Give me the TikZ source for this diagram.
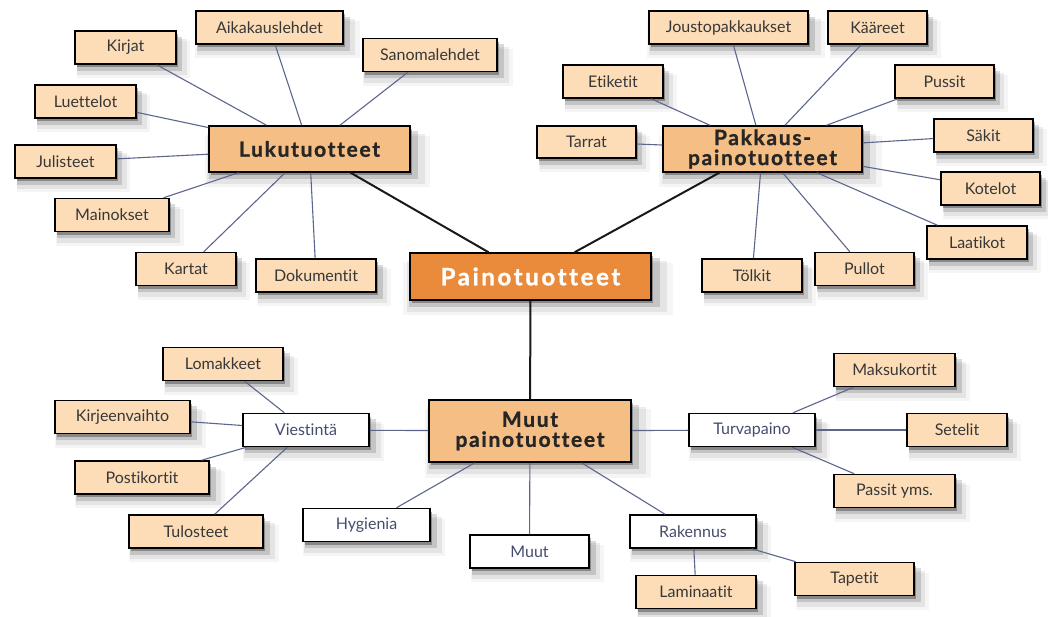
\documentclass[tikz,border=0pt]{standalone}
\usepackage{fontspec}
\setmainfont{Lato}[Ligatures=NoCommon]
\newfontfamily\widefont{Lato}[Ligatures=NoCommon,LetterSpace=8,BoldFeatures={FakeBold=1.2}]
\newfontfamily\widerfont{Lato}[Ligatures=NoCommon,LetterSpace=11,BoldFeatures={FakeBold=1.2}]
\usetikzlibrary{shadows}
\definecolor{pleaf}{RGB}{252,221,184}
\definecolor{pmid}{RGB}{245,190,132}
\definecolor{proot}{RGB}{233,139,58}
\definecolor{ptext}{RGB}{55,55,55}
\definecolor{pnavy}{RGB}{70,76,110}
\definecolor{pline}{RGB}{92,102,140}

\begin{document}
\begin{tikzpicture}[x=1pt,y=-1pt,
  fuzzy/.style={general shadow={shadow xshift=2pt,shadow yshift=-3pt,fill=black,opacity=.3},
                general shadow={shadow xshift=4pt,shadow yshift=-6pt,shadow scale=1.04,fill=black,opacity=.14},
                general shadow={shadow xshift=6pt,shadow yshift=-9pt,shadow scale=1.08,fill=black,opacity=.07},
                general shadow={shadow xshift=7pt,shadow yshift=-11pt,shadow scale=1.12,fill=black,opacity=.04}},
  box/.style={draw=black,line width=1.5pt,inner sep=2pt,minimum height=33pt,align=center,fuzzy},
  leaf/.style={box,fill=pleaf,text=ptext,font=\fontsize{16}{18}\selectfont},
  group/.style={box,fill=white,text=pnavy,font=\fontsize{16}{18}\selectfont},
  mid/.style={box,fill=pmid,text=black!85,minimum height=46pt,font=\fontsize{21}{20}\selectfont\widefont\bfseries},
  root/.style={box,fill=proot,text=white,minimum height=47pt,font=\fontsize{24}{26}\selectfont\widerfont\bfseries},
  edge/.style={pline,line width=1.1pt},
  trunk/.style={black!90,line width=2pt}]
  \useasboundingbox (0,0) rectangle (1048,616);
  % centre
  \node[root,minimum width=241pt] (paino) at (530.5,276.5) {Painotuotteet};
  % reading products
  \node[mid,minimum width=201pt] (luku) at (309.5,149) {Lukutuotteet};
  \node[leaf,minimum width=101pt] (kirjat) at (125.5,47.5) {Kirjat};
  \node[leaf,minimum width=147pt] (aika) at (269.5,27.5) {Aikakauslehdet};
  \node[leaf,minimum width=134pt] (sanoma) at (430,55) {Sanomalehdet};
  \node[leaf,minimum width=101pt] (luettelot) at (85.5,101.5) {Luettelot};
  \node[leaf,minimum width=101pt] (julisteet) at (65.5,161.5) {Julisteet};
  \node[leaf,minimum width=114pt] (mainokset) at (112,215) {Mainokset};
  \node[leaf,minimum width=100pt] (kartat) at (186,269) {Kartat};
  \node[leaf,minimum width=120pt] (doku) at (316,275.5) {Dokumentit};
  % packaging
  \node[mid,minimum width=199pt] (pakk) at (762.5,149) {Pakkaus-\\painotuotteet};
  \node[leaf,minimum width=159pt] (jousto) at (728.5,27.5) {Joustopakkaukset};
  \node[leaf,minimum width=99pt] (kaareet) at (877.5,27.5) {Kääreet};
  \node[leaf,minimum width=100pt] (etiketit) at (613,81.5) {Etiketit};
  \node[leaf,minimum width=99pt] (pussit) at (944.5,81.5) {Pussit};
  \node[leaf,minimum width=99pt,minimum height=32pt] (tarrat) at (586.5,142) {Tarrat};
  \node[leaf,minimum width=99pt] (sakit) at (983.5,135.5) {Säkit};
  \node[leaf,minimum width=99pt] (kotelot) at (990.5,188.5) {Kotelot};
  \node[leaf,minimum width=100pt] (laatikot) at (977,242.5) {Laatikot};
  \node[leaf,minimum width=99pt] (pullot) at (864.5,269) {Pullot};
  \node[leaf,minimum width=100pt] (tolkit) at (752,275.5) {Tölkit};
  % other products
  \node[mid,minimum width=202pt,minimum height=62pt] (muut) at (530,431) {Muut\\painotuotteet};
  \node[group,minimum width=126pt] (viest) at (306,430) {Viestintä};
  \node[leaf,minimum width=120pt] (lomakkeet) at (223,364) {Lomakkeet};
  \node[leaf,minimum width=135pt] (kirjeen) at (122.5,417) {Kirjeenvaihto};
  \node[leaf,minimum width=134pt] (posti) at (142,477.5) {Postikortit};
  \node[leaf,minimum width=134pt] (tulosteet) at (196,531.5) {Tulosteet};
  \node[group,minimum width=127pt] (hygienia) at (366.5,525) {Hygienia};
  \node[group,minimum width=119pt] (muutw) at (529.5,551.5) {Muut};
  \node[group,minimum width=126pt] (rakennus) at (693,531.5) {Rakennus};
  \node[leaf,minimum width=120pt] (laminaatit) at (696,592) {Laminaatit};
  \node[leaf,minimum width=119pt] (tapetit) at (854.5,579) {Tapetit};
  \node[group,minimum width=126pt] (turva) at (752,430) {Turvapaino};
  \node[leaf,minimum width=121pt] (maksu) at (894.5,370) {Maksukortit};
  \node[leaf,minimum width=100pt] (setelit) at (957,430) {Setelit};
  \node[leaf,minimum width=121pt] (passit) at (894.5,491) {Passit yms.};
  % connectors
  \foreach \n in {luku,pakk,muut} \draw[trunk] (paino) -- (\n);
  \foreach \n in {kirjat,aika,sanoma,luettelot,julisteet,mainokset,kartat,doku}
    \draw[edge] (luku) -- (\n);
  \foreach \n in {jousto,kaareet,etiketit,pussit,tarrat,sakit,kotelot,laatikot,pullot,tolkit}
    \draw[edge] (pakk) -- (\n);
  \foreach \n in {viest,hygienia,muutw,rakennus,turva} \draw[edge] (muut) -- (\n);
  \foreach \n in {lomakkeet,kirjeen,posti,tulosteet} \draw[edge] (viest) -- (\n);
  \foreach \n in {maksu,setelit,passit} \draw[edge] (turva) -- (\n);
  \foreach \n in {laminaatit,tapetit} \draw[edge] (rakennus) -- (\n);
\end{tikzpicture}
\end{document}
